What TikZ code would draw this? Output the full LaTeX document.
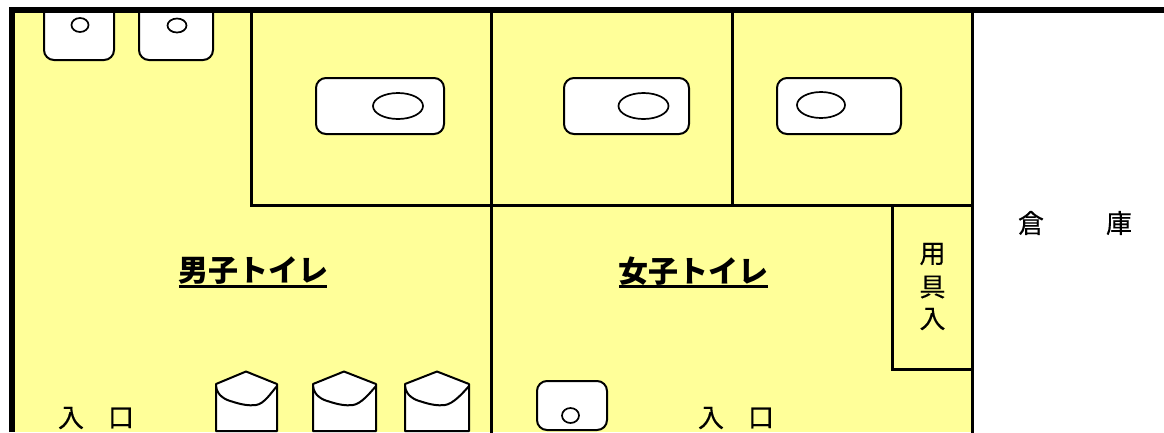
\documentclass[tikz,border=0pt]{standalone}
\usepackage{fontspec}
\newfontfamily\cjk[FakeBold=0.35]{Noto Sans CJK JP}
\newfontfamily\cjktitle{Noto Sans CJK JP}
\definecolor{roomyellow}{RGB}{255,255,153}
\tikzset{
  wall/.style={line width=2.8pt,line cap=rect},
  outer/.style={line width=6pt},
  fixture/.style={draw=black,fill=white,line width=2pt},
  basin/.style={fixture,rounded corners=10pt},
  txt/.style={font=\cjk\fontsize{26}{26}\selectfont,inner sep=0pt,text=black},
  title/.style={font=\cjktitle\bfseries\fontsize{30}{30}\selectfont,inner sep=0pt,text=black},
}
\newcommand{\urinal}[4]{% left right apex-x bottom
  \fill[white] (#1,384) -- (#3,371.5) -- (#2,384) -- (#2,#4) -- (#1,#4) -- cycle;
  \draw[line width=2pt,line join=round] (#1,#4) -- (#1,384) -- (#3,371.5) -- (#2,384) -- (#2,#4) -- cycle;
  \draw[line width=2pt] (#1,386) .. controls (#1+1,396) and (#1+10,400) .. (#1+16,401.5)
     .. controls (#1+25,404.5) and (#1+33,406) .. (#1+40,405)
     .. controls (#1+48,404) and (#2-6,393) .. (#2,386);
}
\begin{document}
\begin{tikzpicture}[x=1pt,y=-1pt]
\useasboundingbox (0,0) rectangle (1164,432);
\fill[white] (0,0) rectangle (1164,432);
\fill[roomyellow] (12,10) rectangle (972.5,432);
% fixtures
\draw[basin] (44,12) -- (44,60) -- (114,60) -- (114,12);
\draw[basin] (139,12) -- (139,60) -- (213,60) -- (213,12);
\draw[line width=1.7pt,fill=white] (80,25) ellipse (8.5pt and 7pt);
\draw[line width=1.7pt,fill=white] (177,25.5) ellipse (9.5pt and 7pt);
\draw[basin] (316,78) rectangle (444,134);
\draw[line width=1.7pt] (398,106) ellipse (25pt and 13pt);
\draw[basin] (564,78) rectangle (689,134);
\draw[line width=1.7pt] (643.5,106) ellipse (25pt and 13pt);
\draw[basin] (777,78) rectangle (901,134);
\draw[line width=1.7pt] (821,105) ellipse (24pt and 13pt);
\draw[basin] (537,381) rectangle (607,430);
\draw[line width=1.7pt] (570.5,415.5) ellipse (8.5pt and 7.5pt);
\urinal{216}{277}{246}{431}
\urinal{313}{376}{344}{431}
\urinal{405}{469}{437}{431}
% walls
\draw[wall] (251.5,12) -- (251.5,205.5) -- (972.5,205.5);
\draw[wall] (491.5,12) -- (491.5,432);
\draw[wall] (732.5,12) -- (732.5,205.5);
\draw[wall] (972.5,12) -- (972.5,432);
\draw[wall] (892.5,205.5) -- (892.5,369.5) -- (972.5,369.5);
\draw[outer] (12,432) -- (12,10) -- (1164,10);
% labels
\node[title] (men) at (253.5,271) {男子トイレ};
\node[title] (women) at (693.5,271) {女子トイレ};
\draw[line width=2.8pt] (179,286.5) -- (327,286.5);
\draw[line width=2.8pt] (619,286.5) -- (768,286.5);
\node[txt] (soko1) at (1031,223) {倉};
\node[txt] (soko2) at (1119,223) {庫};
\node[txt] (yogu1) at (932.5,254) {用};
\node[txt] (yogu2) at (932.5,287) {具};
\node[txt] (yogu3) at (932.5,319) {入};
\node[txt] (in1a) at (71,418) {入};
\node[txt] (in1b) at (121,418) {口};
\node[txt] (in2a) at (711,418) {入};
\node[txt] (in2b) at (761,418) {口};
\end{tikzpicture}
\end{document}
